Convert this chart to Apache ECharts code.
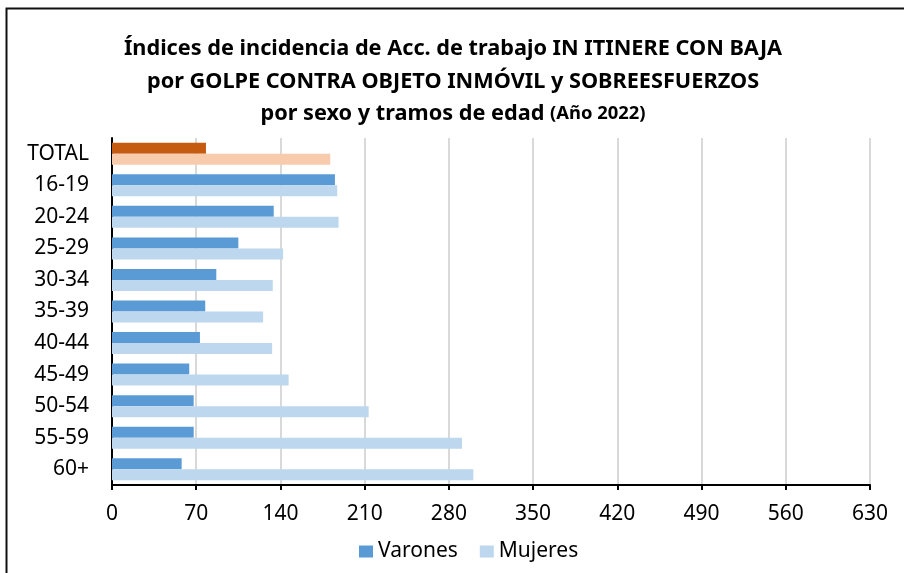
<!DOCTYPE html>
<html>
<head>
<meta charset="utf-8">
<script src="https://cdn.jsdelivr.net/npm/echarts@6/dist/echarts.min.js"></script>
<style>
  html, body { margin: 0; padding: 0; background: #fff; }
  #chart { width: 904px; height: 573px; }
</style>
</head>
<body>
<div id="chart"></div>
<script>
// Age brackets, top to bottom
const categories = ['TOTAL', '16-19', '20-24', '25-29', '30-34', '35-39', '40-44', '45-49', '50-54', '55-59', '60+'];
// Incidence index, men
const varones = [78.1, 185.3, 134.4, 105.0, 86.7, 77.5, 73.1, 64.2, 67.9, 67.9, 57.9];
// Incidence index, women
const mujeres = [181.4, 187.2, 188.3, 142.2, 133.6, 125.6, 133.1, 146.8, 213.3, 290.9, 300.3];
// Value axis ticks
const xTicks = [0, 70, 140, 210, 280, 350, 420, 490, 560, 630];

const FONT = '"Noto Sans", "Liberation Sans", sans-serif';
const colV = '#5B9BD5', colM = '#BDD7EE';
const totV = '#C55A11', totM = '#F8CBAD';

// The TOTAL row is highlighted with its own colours
function withTotal(values, totalColor) {
  return values.map((v, i) => categories[i] === 'TOTAL'
    ? { value: v, itemStyle: { color: totalColor } }
    : v);
}

const chart = echarts.init(document.getElementById('chart'), null, { renderer: 'canvas' });
chart.setOption({
  animation: false,
  backgroundColor: '#fff',
  textStyle: { fontFamily: FONT },
  title: {
    text: 'Índices de incidencia de Acc. de trabajo IN ITINERE CON BAJA\npor GOLPE CONTRA OBJETO INMÓVIL y SOBREESFUERZOS\npor sexo y tramos de edad {s|(Año 2022)}',
    left: 448, top: 28, textAlign: 'center',
    textStyle: {
      fontFamily: FONT, fontSize: 21.7, fontWeight: 'bold', color: '#000', lineHeight: 32.5,
      rich: { s: { fontFamily: FONT, fontSize: 18.4, fontWeight: 'bold', color: '#000', lineHeight: 32.5 } }
    }
  },
  legend: {
    data: ['Varones', 'Mujeres'],
    left: 354, top: 536,
    icon: 'rect', itemWidth: 14, itemHeight: 12, itemGap: 22,
    textStyle: { fontFamily: FONT, fontSize: 21, color: '#000' }
  },
  grid: { left: 112, right: 34, top: 138, bottom: 88, containLabel: false },
  xAxis: {
    type: 'value', min: xTicks[0], max: xTicks[xTicks.length - 1], interval: 70,
    axisLine: { show: true, lineStyle: { color: '#000', width: 2 } },
    axisTick: { show: true, length: 5, lineStyle: { color: '#000', width: 2 } },
    axisLabel: { fontFamily: FONT, fontSize: 21, color: '#000', margin: 19 },
    splitLine: { show: true, lineStyle: { color: '#D9D9D9', width: 2 } }
  },
  yAxis: {
    type: 'category', data: categories, inverse: true,
    axisLine: { show: true, lineStyle: { color: '#000', width: 2 } },
    axisTick: { show: false },
    axisLabel: { fontFamily: FONT, fontSize: 21, color: '#000', margin: 23 },
    splitLine: { show: false }
  },
  series: [
    { name: 'Varones', type: 'bar', data: withTotal(varones, totV), barWidth: 11, barGap: '0%',
      itemStyle: { color: colV } },
    { name: 'Mujeres', type: 'bar', data: withTotal(mujeres, totM), barWidth: 11, barGap: '0%',
      itemStyle: { color: colM } }
  ],
  graphic: [{
    type: 'rect', silent: true,
    shape: { x: 6.5, y: 8.5, width: 1000, height: 1000 },
    style: { fill: 'none', stroke: '#111', lineWidth: 2 }
  }]
});
</script>
</body>
</html>
